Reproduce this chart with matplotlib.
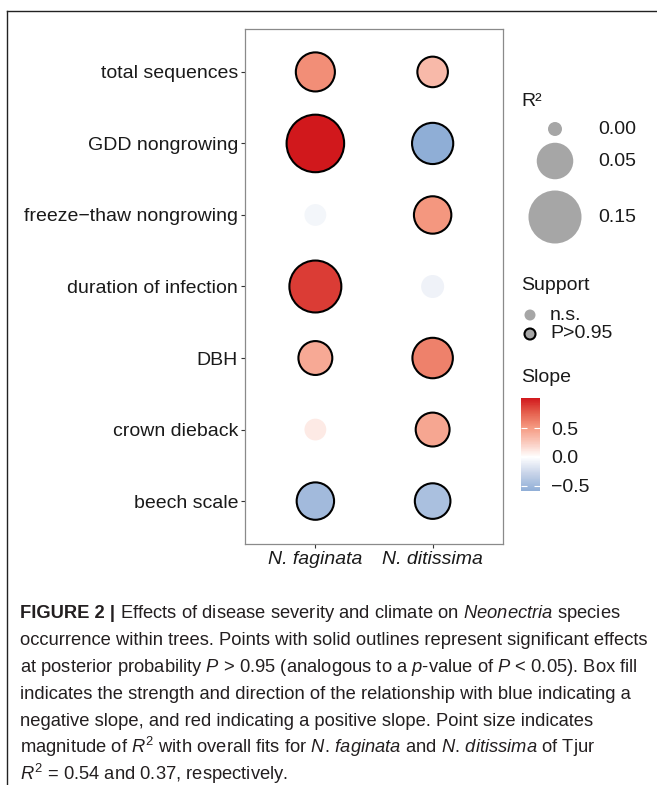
import numpy as np
import matplotlib
matplotlib.use("Agg")
import matplotlib.pyplot as plt
from matplotlib import font_manager
from matplotlib.colors import LinearSegmentedColormap, Normalize
from matplotlib.cm import ScalarMappable

# data
predictors = ["total sequences", "GDD nongrowing", "freeze\u2212thaw nongrowing",
              "duration of infection", "DBH", "crown dieback", "beech scale"]
species = ["N. faginata", "N. ditissima"]

r2_faginata = [0.062, 0.187, 0.006, 0.142, 0.039, 0.006, 0.054]
r2_ditissima = [0.027, 0.073, 0.054, 0.008, 0.069, 0.039, 0.046]
slope_faginata = [0.56, 1.02, -0.06, 0.89, 0.43, 0.10, -0.49]
slope_ditissima = [0.34, -0.59, 0.52, -0.08, 0.62, 0.44, -0.44]
sig_faginata = [True, True, False, True, True, False, True]
sig_ditissima = [True, True, True, False, True, True, True]

r2_breaks = [0.00, 0.05, 0.15]
r2_labels = ["0.00", "0.05", "0.15"]
slope_ticks = [-0.5, 0.0, 0.5]
slope_tick_labels = ["\u22120.5", "0.0", "0.5"]
support_labels = ["n.s.", "P>0.95"]

caption = [
    "Effects of disease severity and climate on $\\mathit{Neonectria}$ species",
    "occurrence within trees. Points with solid outlines represent significant effects",
    "at posterior probability $\\mathit{P}$ > 0.95 (analogous to a $\\mathit{p}$-value of $\\mathit{P}$ < 0.05). Box fill",
    "indicates the strength and direction of the relationship with blue indicating a",
    "negative slope, and red indicating a positive slope. Point size indicates",
    "magnitude of $\\mathit{R}^2$ with overall fits for $\\mathit{N.\\,faginata}$ and $\\mathit{N.\\,ditissima}$ of Tjur",
    "$\\mathit{R}^2$ = 0.54 and 0.37, respectively.",
]

W, H, DPI = 657, 785, 100

names = {f.name for f in font_manager.fontManager.ttflist}
cap_font = "Liberation Sans Narrow" if "Liberation Sans Narrow" in names else "Liberation Sans"
cap_size = 16 if cap_font == "Liberation Sans Narrow" else 13.2

plt.rcParams["font.family"] = ["Liberation Sans", "DejaVu Sans"]
plt.rcParams["mathtext.fontset"] = "custom"
plt.rcParams["mathtext.rm"] = cap_font
plt.rcParams["mathtext.it"] = cap_font + ":italic"
plt.rcParams["mathtext.bf"] = cap_font + ":bold"
plt.rcParams["mathtext.default"] = "regular"


def size_pt2(r2):
    # area-type size scale, diameter in pixels
    d_px = 14 + 100.7 * np.sqrt(np.asarray(r2, dtype=float))
    return (d_px * 72 / DPI) ** 2


# gradient2-like colour scale, symmetric around 0
allslopes = np.array(slope_faginata + slope_ditissima)
smin, smax = allslopes.min(), allslopes.max()
half = max(abs(smin), abs(smax))
norm = Normalize(-half, half)
cmap = LinearSegmentedColormap.from_list("slope", [
    (0.0, "#6A8EC5"), (0.21, "#8FAED6"), (0.355, "#C6D2E8"), (0.5, "#FFFFFF"),
    (0.625, "#FAC9BC"), (0.75, "#F59A82"), (0.875, "#E5604D"), (1.0, "#D1181C")])

fig = plt.figure(figsize=(W / DPI, H / DPI), dpi=DPI)

ax = fig.add_axes([245 / W, 1 - 544 / H, 258 / W, 515 / H])
ypos = np.arange(len(predictors))[::-1] + 1
cols = [(r2_faginata, slope_faginata, sig_faginata), (r2_ditissima, slope_ditissima, sig_ditissima)]
for i, (r2, sl, sig) in enumerate(cols):
    ax.scatter(np.full(len(ypos), i + 1), ypos, s=size_pt2(r2), c=sl, cmap=cmap, norm=norm,
               edgecolors=["black" if s else "none" for s in sig],
               linewidths=[1.5 if s else 0 for s in sig], zorder=3)
ax.set_xlim(0.4, 2.6)
ax.set_ylim(0.4, 7.6)
ax.set_xticks([1, 2], species)
ax.set_yticks(ypos, predictors)
for lab in ax.get_xticklabels():
    lab.set_style("italic")
for sp in ax.spines.values():
    sp.set_color("#8A8A8A")
    sp.set_linewidth(0.9)
ax.tick_params(length=3, width=0.8, color="#333333", labelsize=14, labelcolor="#1A1A1A", pad=2)

# overlay in pixel coordinates for legends, frame and caption
ov = fig.add_axes([0, 0, 1, 1])
ov.set_xlim(0, W)
ov.set_ylim(H, 0)
ov.axis("off")

ov.plot([7, W], [11, 11], color="#222222", lw=1.0, clip_on=False)
ov.plot([7, 7], [11, H], color="#222222", lw=1.0, clip_on=False)

ov.text(521, 101, "R\u00b2", fontsize=14, va="center", color="#1A1A1A")
leg_y = [129, 161, 217]
ov.scatter([555] * 3, leg_y, s=size_pt2(r2_breaks), color="#A6A6A6", lw=0)
for y, lab in zip(leg_y, r2_labels):
    ov.text(598, y, lab, fontsize=14, va="center", color="#1A1A1A")

ov.text(521, 286, "Support", fontsize=14, va="center", color="#1A1A1A")
ov.scatter([530, 530], [315, 334], s=(11 * 72 / DPI) ** 2, color="#A6A6A6",
           edgecolors=["none", "black"], linewidths=[0, 1.5])
for y, lab in zip([315, 334], support_labels):
    ov.text(550, y, lab, fontsize=14, va="center", color="#1A1A1A")

ov.text(521, 378, "Slope", fontsize=14, va="center", color="#1A1A1A")
cax = fig.add_axes([521 / W, 1 - 491 / H, 19 / W, 93 / H])
cb = fig.colorbar(ScalarMappable(norm=norm, cmap=cmap), cax=cax,
                  boundaries=np.linspace(smin, smax, 256))
cb.set_ticks(slope_ticks, labels=slope_tick_labels)
cb.outline.set_visible(False)
cax.tick_params(direction="in", left=True, right=True, length=4, width=0.8, color="white",
                labelsize=14, labelcolor="#1A1A1A", pad=8)

# caption
renderer = fig.canvas.get_renderer()
base = 618
step = 27
t0 = ov.text(20, base, "FIGURE 2 |", family=cap_font, weight="bold", fontsize=cap_size,
             color="#231F20", va="baseline")
bb = t0.get_window_extent(renderer)
ov.text(bb.x1 + cap_size * 0.25 * DPI / 72, base, caption[0], family=cap_font, fontsize=cap_size,
        color="#231F20", va="baseline")
for k, line in enumerate(caption[1:], start=1):
    ov.text(20, base + step * k, line, family=cap_font, fontsize=cap_size,
            color="#231F20", va="baseline")

fig.savefig("out.png", dpi=DPI)
